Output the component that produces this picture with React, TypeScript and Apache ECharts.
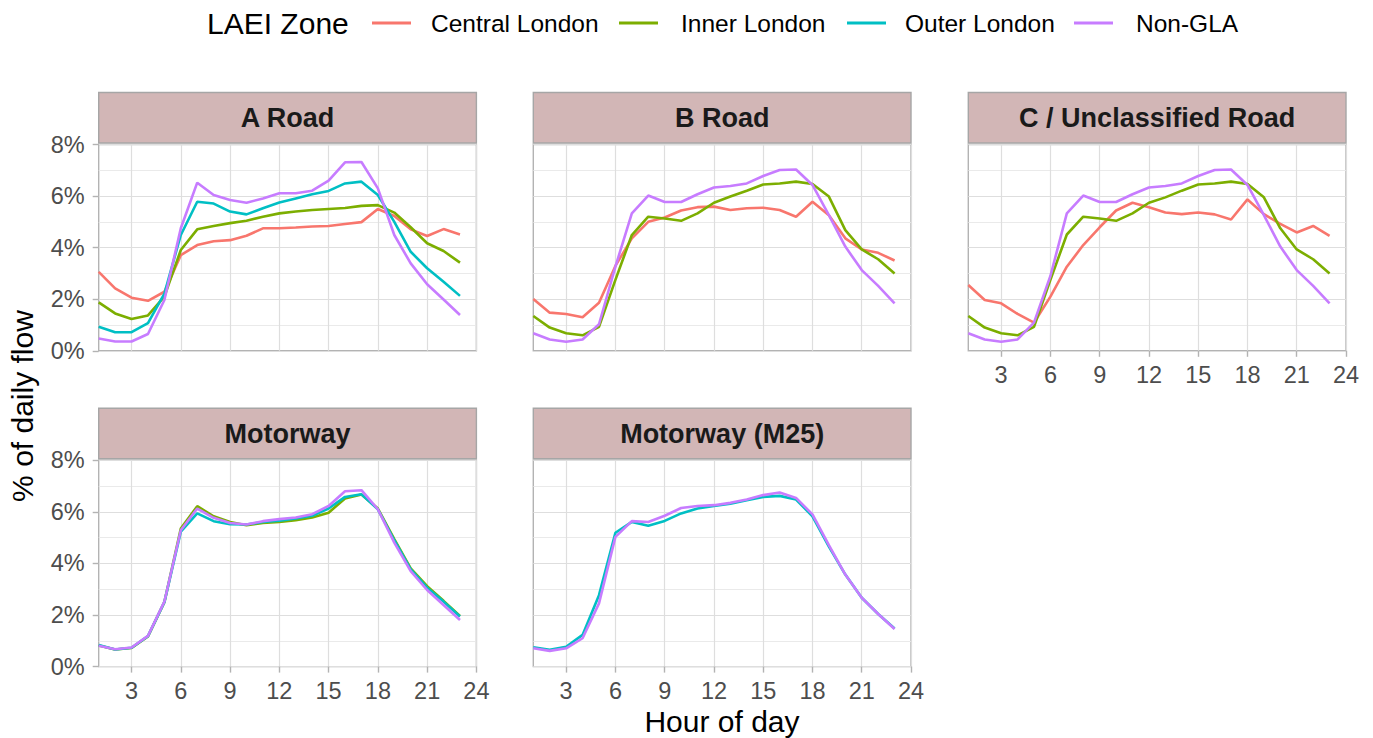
import React, { useEffect, useRef } from "react";
import * as echarts from "echarts";

const HOURS = [1, 2, 3, 4, 5, 6, 7, 8, 9, 10, 11, 12, 13, 14, 15, 16, 17, 18, 19, 20, 21, 22, 23];
const X_TICKS = [3, 6, 9, 12, 15, 18, 21, 24];
const Y_TICKS = [0, 2, 4, 6, 8];
const PANELS = ["A Road", "B Road", "C / Unclassified Road", "Motorway", "Motorway (M25)"];
const ZONES = ["Central London", "Inner London", "Outer London", "Non-GLA"];
const ZONE_COLORS = ["#F8766D", "#7CAE00", "#00BFC4", "#C77CFF"];

// A Road
const A_CENTRAL = [3.06, 2.42, 2.06, 1.94, 2.29, 3.71, 4.1, 4.25, 4.29, 4.46, 4.75, 4.75, 4.78, 4.82, 4.84, 4.92, 4.99, 5.5, 5.23, 4.71, 4.45, 4.72, 4.51];
const A_INNER = [1.88, 1.45, 1.23, 1.37, 2.1, 3.91, 4.71, 4.84, 4.95, 5.04, 5.2, 5.33, 5.4, 5.46, 5.5, 5.54, 5.62, 5.65, 5.36, 4.79, 4.17, 3.87, 3.42];
const A_OUTER = [0.93, 0.72, 0.72, 1.07, 2.22, 4.49, 5.78, 5.71, 5.4, 5.29, 5.53, 5.75, 5.91, 6.07, 6.2, 6.49, 6.56, 6.04, 5.0, 3.84, 3.2, 2.68, 2.13];
const A_NONGLA = [0.48, 0.36, 0.36, 0.65, 1.97, 4.75, 6.52, 6.04, 5.85, 5.74, 5.91, 6.11, 6.11, 6.21, 6.6, 7.31, 7.32, 6.3, 4.49, 3.39, 2.58, 1.99, 1.39];

// B Road
const B_CENTRAL = [2.01, 1.48, 1.43, 1.3, 1.86, 3.29, 4.36, 5.0, 5.17, 5.44, 5.57, 5.59, 5.46, 5.53, 5.55, 5.46, 5.2, 5.78, 5.26, 4.36, 3.93, 3.8, 3.5];
const B_INNER = [1.35, 0.9, 0.68, 0.6, 0.93, 2.75, 4.49, 5.2, 5.13, 5.04, 5.33, 5.74, 5.98, 6.21, 6.45, 6.49, 6.56, 6.47, 5.98, 4.68, 3.93, 3.55, 3.0];
const B_NONGLA = [0.68, 0.44, 0.35, 0.44, 1.03, 3.26, 5.33, 6.02, 5.77, 5.77, 6.07, 6.33, 6.39, 6.49, 6.78, 7.01, 7.03, 6.43, 5.26, 4.04, 3.13, 2.52, 1.84];

// C / Unclassified Road
const C_CENTRAL = [2.55, 1.97, 1.84, 1.43, 1.09, 2.1, 3.26, 4.1, 4.79, 5.44, 5.74, 5.57, 5.36, 5.3, 5.36, 5.29, 5.09, 5.87, 5.3, 4.92, 4.59, 4.84, 4.46];
const C_INNER = [1.35, 0.9, 0.68, 0.6, 0.93, 2.75, 4.51, 5.2, 5.13, 5.04, 5.33, 5.74, 5.95, 6.21, 6.45, 6.49, 6.56, 6.47, 5.95, 4.75, 3.93, 3.55, 3.0];
const C_NONGLA = [0.68, 0.44, 0.35, 0.44, 1.09, 2.9, 5.33, 6.02, 5.77, 5.77, 6.07, 6.33, 6.39, 6.49, 6.78, 7.01, 7.03, 6.43, 5.26, 4.04, 3.13, 2.52, 1.84];

// Motorway
const M_INNER = [0.82, 0.66, 0.72, 1.17, 2.5, 5.35, 6.22, 5.83, 5.61, 5.48, 5.57, 5.61, 5.68, 5.78, 5.97, 6.52, 6.67, 6.13, 4.94, 3.81, 3.12, 2.55, 1.96];
const M_OUTER = [0.84, 0.66, 0.73, 1.18, 2.5, 5.23, 5.94, 5.64, 5.52, 5.51, 5.61, 5.66, 5.74, 5.85, 6.13, 6.58, 6.68, 6.1, 4.9, 3.77, 3.06, 2.52, 1.94];
const M_NONGLA = [0.81, 0.67, 0.74, 1.19, 2.52, 5.29, 6.13, 5.77, 5.57, 5.51, 5.64, 5.72, 5.78, 5.91, 6.23, 6.8, 6.84, 6.1, 4.81, 3.7, 2.97, 2.39, 1.81];

// Motorway (M25)
const M25_OUTER = [0.75, 0.65, 0.77, 1.23, 2.77, 5.19, 5.61, 5.46, 5.65, 5.94, 6.13, 6.23, 6.32, 6.45, 6.58, 6.62, 6.48, 5.83, 4.65, 3.57, 2.67, 2.04, 1.48];
const M25_NONGLA = [0.71, 0.61, 0.71, 1.1, 2.45, 5.03, 5.64, 5.61, 5.85, 6.15, 6.23, 6.26, 6.35, 6.48, 6.65, 6.75, 6.54, 5.9, 4.71, 3.57, 2.67, 2.04, 1.46];

// per panel: values per zone (null = zone not present)
const PANEL_DATA: (number[] | null)[][] = [
  [A_CENTRAL, A_INNER, A_OUTER, A_NONGLA],
  [B_CENTRAL, B_INNER, null, B_NONGLA],
  [C_CENTRAL, C_INNER, null, C_NONGLA],
  [null, M_INNER, M_OUTER, M_NONGLA],
  [null, null, M25_OUTER, M25_NONGLA],
];

const FONT = "Liberation Sans, Arial, Helvetica, sans-serif";
const PW = 377.7;
const PH = 206.3;
const LAYOUT = [
  { left: 98.7, top: 144.5, xLabels: false, yLabels: true },
  { left: 533.3, top: 144.5, xLabels: false, yLabels: false },
  { left: 968.3, top: 144.5, xLabels: true, yLabels: false },
  { left: 98.7, top: 460.3, xLabels: true, yLabels: true },
  { left: 533.3, top: 460.3, xLabels: true, yLabels: false },
];

export default function App() {
  const ref = useRef<HTMLDivElement>(null);
  useEffect(() => {
    document.body.style.margin = "0";
    if (!ref.current) return;
    const chart = echarts.init(ref.current, undefined, { renderer: "svg" });

    const grids: any[] = [];
    const xAxes: any[] = [];
    const yAxes: any[] = [];
    const series: any[] = [];
    const graphics: any[] = [];

    LAYOUT.forEach((L, i) => {
      grids.push({
        left: L.left,
        top: L.top,
        width: PW,
        height: PH,
        show: true,
        backgroundColor: "#ffffff",
        borderColor: "#b3b3b3",
        borderWidth: 1.4,
      });
      xAxes.push({
        type: "value",
        gridIndex: i,
        min: 1,
        max: 24,
        axisLine: { show: false },
        axisTick: {
          show: L.xLabels,
          customValues: X_TICKS,
          length: 6,
          lineStyle: { color: "#b3b3b3", width: 1.4 },
        },
        axisLabel: {
          show: L.xLabels,
          customValues: X_TICKS,
          margin: 12,
          fontSize: 23.5,
          color: "#4d4d4d",
          fontFamily: FONT,
        },
        splitLine: { show: true, lineStyle: { color: "#dedede", width: 1.2 } },
      });
      yAxes.push({
        type: "value",
        gridIndex: i,
        min: 0,
        max: 8,
        interval: 2,
        axisLine: { show: false },
        axisTick: { show: L.yLabels, length: 6, lineStyle: { color: "#b3b3b3", width: 1.4 } },
        axisLabel: {
          show: L.yLabels,
          customValues: Y_TICKS,
          formatter: "{value}%",
          margin: 14,
          fontSize: 23.5,
          color: "#4d4d4d",
          fontFamily: FONT,
        },
        splitLine: { show: true, lineStyle: { color: "#dedede", width: 1.2 } },
        minorTick: { show: false, splitNumber: 2 },
        minorSplitLine: { show: true, lineStyle: { color: "#e8e8e8", width: 0.9 } },
      });
      PANEL_DATA[i].forEach((vals, z) => {
        if (!vals) return;
        series.push({
          type: "line",
          name: ZONES[z],
          xAxisIndex: i,
          yAxisIndex: i,
          data: HOURS.map((h, k) => [h, vals[k]]),
          showSymbol: false,
          symbol: "none",
          lineStyle: { color: ZONE_COLORS[z], width: 2.6 },
          itemStyle: { color: ZONE_COLORS[z] },
          z: 3 + z,
        });
      });
      // strip
      graphics.push({
        type: "rect",
        shape: { x: L.left, y: L.top - 52, width: PW, height: 50.5 },
        style: { fill: "#D2B6B6", stroke: "#a6a6a6", lineWidth: 1.4 },
        z: 10,
      });
      graphics.push({
        type: "text",
        x: L.left + PW / 2,
        y: L.top - 26.5,
        style: {
          text: PANELS[i],
          fontSize: 27,
          fontWeight: "bold",
          fontFamily: FONT,
          fill: "#1a1a1a",
          align: "center",
          verticalAlign: "middle",
        },
        z: 11,
      });
    });

    // legend
    graphics.push({
      type: "text",
      x: 207,
      y: 23,
      style: {
        text: "LAEI Zone",
        fontSize: 30,
        fontFamily: FONT,
        fill: "#000000",
        align: "left",
        verticalAlign: "middle",
      },
    });
    const keyX = [372, 619, 847, 1074];
    const textX = [431, 681, 905, 1136];
    ZONES.forEach((zn, z) => {
      graphics.push({
        type: "line",
        shape: { x1: keyX[z], y1: 23, x2: keyX[z] + 39, y2: 23 },
        style: { stroke: ZONE_COLORS[z], lineWidth: 3 },
      });
      graphics.push({
        type: "text",
        x: textX[z],
        y: 23,
        style: {
          text: zn,
          fontSize: 24.5,
          fontFamily: FONT,
          fill: "#000000",
          align: "left",
          verticalAlign: "middle",
        },
      });
    });
    // axis titles
    graphics.push({
      type: "text",
      x: 722,
      y: 721,
      style: {
        text: "Hour of day",
        fontSize: 30,
        fontFamily: FONT,
        fill: "#000000",
        align: "center",
        verticalAlign: "middle",
      },
    });
    graphics.push({
      type: "text",
      x: 22,
      y: 406,
      rotation: Math.PI / 2,
      style: {
        text: "% of daily flow",
        fontSize: 30,
        fontFamily: FONT,
        fill: "#000000",
        align: "center",
        verticalAlign: "middle",
      },
    });

    chart.setOption({
      animation: false,
      backgroundColor: "#ffffff",
      grid: grids,
      xAxis: xAxes,
      yAxis: yAxes,
      series,
      graphic: graphics,
    });
    return () => chart.dispose();
  }, []);
  return <div ref={ref} style={{ width: 1373, height: 738 }} />;
}
